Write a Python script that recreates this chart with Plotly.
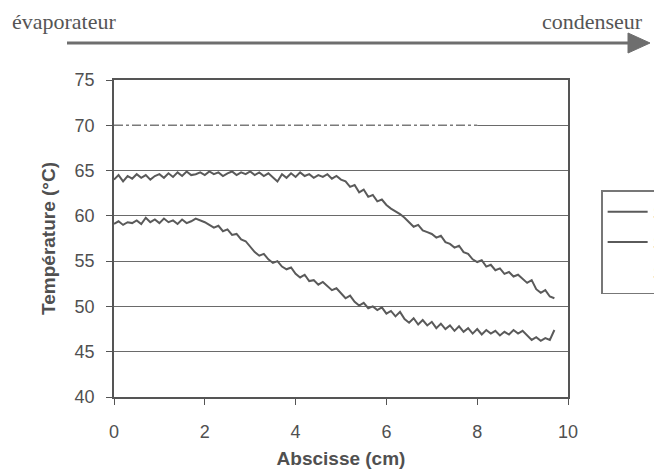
import plotly.graph_objects as go

# ---- data ----
x_cm = [round(i * 0.1, 1) for i in range(98)]

serie1 = [
    64.0, 64.5, 63.8, 64.4, 64.1, 64.6, 64.2, 64.5, 64.0, 64.4,
    64.6, 64.2, 64.7, 64.3, 64.8, 64.4, 64.9, 64.5, 64.6, 64.8,
    64.5, 64.9, 64.6, 64.8, 64.4, 64.7, 64.9, 64.5, 64.8, 64.6,
    64.9, 64.5, 64.8, 64.4, 64.7, 64.3, 63.8, 64.6, 64.2, 64.7,
    64.3, 64.8, 64.4, 64.6, 64.2, 64.5, 64.3, 64.6, 64.1, 64.4,
    64.0, 63.8, 63.2, 63.4, 62.6, 62.9, 62.1, 62.3, 61.6, 61.8,
    61.2, 60.8, 60.5, 60.2, 59.8, 59.3, 58.8, 59.0, 58.4, 58.2,
    58.0, 57.6, 57.8, 57.1, 56.9, 56.5, 56.7, 56.0, 55.8, 55.2,
    54.9, 55.1, 54.4, 54.6, 54.0, 54.2, 53.6, 53.8, 53.3, 53.5,
    53.0, 52.6, 52.9, 51.9, 51.5, 51.8, 51.1, 50.9,
]

serie2 = [
    59.1, 59.4, 59.0, 59.3, 59.2, 59.5, 59.1, 59.8, 59.3, 59.6,
    59.2, 59.7, 59.3, 59.5, 59.1, 59.6, 59.2, 59.4, 59.7, 59.5,
    59.3, 59.0, 58.7, 58.9, 58.3, 58.5, 57.9, 58.0, 57.4, 57.2,
    56.6, 56.0, 55.6, 55.8, 55.2, 54.8, 55.0, 54.4, 54.1, 54.3,
    53.6, 53.2, 53.5, 52.8, 52.9, 52.4, 52.7, 52.2, 51.8, 52.0,
    51.4, 50.9, 51.2, 50.5, 50.1, 50.4, 49.8, 50.0, 49.6, 49.9,
    49.2, 49.5, 48.9, 49.4, 48.6, 48.2, 48.7, 48.0, 48.5, 47.9,
    48.3, 47.6, 48.1, 47.5, 47.9, 47.3, 47.8, 47.2, 47.6, 47.0,
    47.5, 46.9, 47.4, 47.0, 47.3, 46.8, 47.2, 46.9, 47.4, 47.0,
    47.3, 46.8, 46.3, 46.6, 46.2, 46.5, 46.3, 47.4,
]

serie3_x = [0.0, 8.0]
serie3_y = [70.0, 70.0]

series_names = ["Série 1", "Série 2", "Série 3"]
x_ticks = [0, 2, 4, 6, 8, 10]
y_ticks = [40, 45, 50, 55, 60, 65, 70, 75]

# ---- figure ----
line_col = "#5a5a5a"
fig = go.Figure()
fig.add_trace(go.Scatter(x=x_cm, y=serie1, mode="lines", name=series_names[0],
                         line=dict(color=line_col, width=2)))
fig.add_trace(go.Scatter(x=x_cm, y=serie2, mode="lines", name=series_names[1],
                         line=dict(color=line_col, width=2)))
fig.add_trace(go.Scatter(x=serie3_x, y=serie3_y, mode="lines", name=series_names[2],
                         line=dict(color="white", width=4)))
fig.add_trace(go.Scatter(x=serie3_x, y=serie3_y, mode="lines", showlegend=False,
                         hoverinfo="skip",
                         line=dict(color="#7a7a7a", width=1.5, dash="dashdot")))

axis_col = "#555555"
tick_font = dict(family="Arial, Liberation Sans, sans-serif", size=18, color="#505050")
title_font = dict(family="Arial, Liberation Sans, sans-serif", size=19, color="#505050")

fig.update_xaxes(range=[0, 10], tickvals=x_ticks, showgrid=False, zeroline=False,
                 showline=True, mirror=True, linecolor=axis_col, linewidth=1.5,
                 ticks="outside", ticklen=6, tickcolor=axis_col, tickfont=tick_font,
                 ticklabelstandoff=12,
                 title=dict(text="<b>Abscisse (cm)</b>", font=title_font, standoff=10))
fig.update_yaxes(range=[40, 75], tickvals=y_ticks, showgrid=True, gridcolor="#6a6a6a",
                 gridwidth=1, zeroline=False,
                 showline=True, mirror=True, linecolor=axis_col, linewidth=1.5,
                 ticks="outside", ticklen=6, tickcolor=axis_col, tickfont=tick_font,
                 ticklabelstandoff=8,
                 title=dict(text="<b>Température (°C)</b>", font=title_font, standoff=14))

fig.update_layout(
    width=654, height=473,
    margin=dict(l=114, r=86, t=80, b=76, autoexpand=False),
    paper_bgcolor="white", plot_bgcolor="white",
    showlegend=True,
    legend=dict(x=1.073, xanchor="left", y=(397 - 190) / 317, yanchor="top",
                bordercolor="#777777", borderwidth=1.5, bgcolor="white",
                itemwidth=40, font=dict(family="Arial", size=21, color="#505050"),
                tracegroupgap=0),
)

# arrow évaporateur -> condenseur
def px(xp):
    return (xp - 114) / 454

def py(yp):
    return (397 - yp) / 317

arrow_col = "#6e6e6e"
fig.add_shape(type="line", xref="paper", yref="paper",
              x0=px(67), x1=px(632), y0=py(43), y1=py(43),
              line=dict(color=arrow_col, width=3))
fig.add_shape(type="path", xref="paper", yref="paper",
              path=f"M {px(650)},{py(43)} L {px(628)},{py(33)} L {px(628)},{py(53)} Z",
              fillcolor=arrow_col, line=dict(color=arrow_col, width=1))

serif = dict(family="Liberation Serif, Times New Roman, serif", size=22, color="#555555")
fig.add_annotation(text="évaporateur", xref="paper", yref="paper", x=px(10), y=py(21),
                   xanchor="left", yanchor="middle", showarrow=False, font=serif)
fig.add_annotation(text="condenseur", xref="paper", yref="paper", x=px(645), y=py(21),
                   xanchor="right", yanchor="middle", showarrow=False, font=serif)

fig.write_html("out.html", config={"displayModeBar": False},
               post_script="document.body.style.margin='0';document.body.style.padding='0';")
